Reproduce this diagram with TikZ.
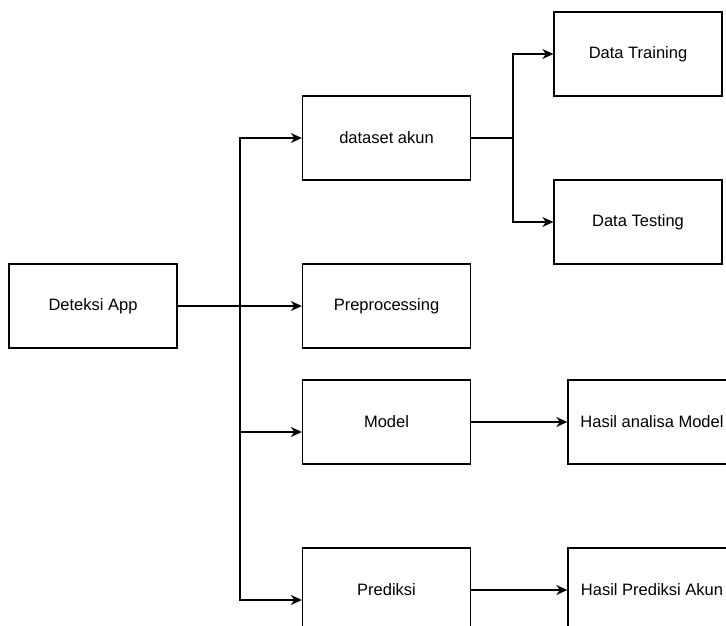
\documentclass[tikz,border=0pt]{standalone}
\usepackage{fontspec}
\setmainfont{Liberation Sans}
\usetikzlibrary{arrows.meta,positioning}
\tikzset{
  flowbox/.style={draw=black,line width=1.3pt,fill=white,
    minimum width=168pt,minimum height=84pt,align=center,
    inner sep=0pt,font=\fontsize{16.5}{20}\selectfont},
  flowarrow/.style={-{Stealth[length=11pt,width=10pt,inset=3.5pt]},
    line width=1.3pt,draw=black},
}
\begin{document}
\begin{tikzpicture}[x=1pt,y=-1pt]
  \useasboundingbox (0,0) rectangle (726,626);
  \node[flowbox] (app) at (93,306) {Deteksi App};
  \node[flowbox] (dataset) at (386.5,138) {dataset akun};
  \node[flowbox] (prepro) at (386.5,306) {Preprocessing};
  \node[flowbox] (model) at (386.5,422) {Model};
  \node[flowbox] (prediksi) at (386.5,590) {Prediksi};
  \node[flowbox] (training) at (638,54) {Data Training};
  \node[flowbox] (testing) at (638,222) {Data Testing};
  \node[flowbox] (hasilmodel) at (652,422) {Hasil analisa Model};
  \node[flowbox] (hasilpred) at (652,590) {Hasil Prediksi Akun};
  % from the app to the four steps
  \coordinate (trunk) at (240,306);
  \draw[flowarrow] (app.east) -- (trunk) |- (dataset.west);
  \draw[flowarrow] (app.east) -- (prepro.west);
  \draw[flowarrow] (trunk) |- ([yshift=-10pt]model.west);
  \draw[flowarrow] (trunk) |- ([yshift=-10pt]prediksi.west);
  % dataset split
  \coordinate (split) at (513,138);
  \draw[flowarrow] (dataset.east) -- (split) |- (training.west);
  \draw[flowarrow] (split) |- (testing.west);
  % results
  \draw[flowarrow] (model.east) -- (hasilmodel.west);
  \draw[flowarrow] (prediksi.east) -- (hasilpred.west);
\end{tikzpicture}
\end{document}
